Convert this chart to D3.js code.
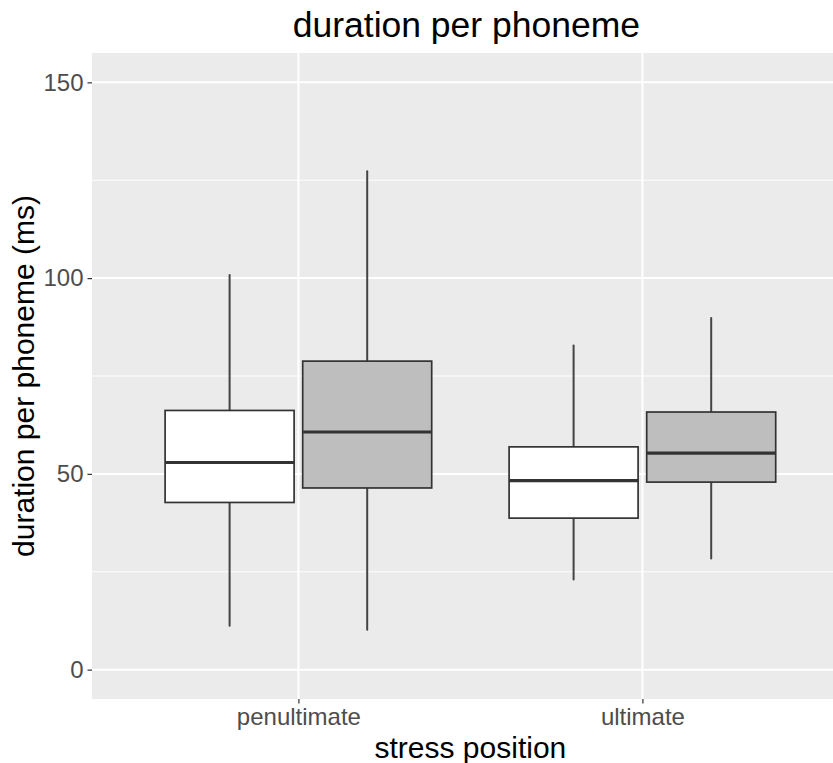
<!DOCTYPE html>
<html><head><meta charset="utf-8">
<script src="https://cdnjs.cloudflare.com/ajax/libs/d3/7.8.5/d3.min.js"></script>
<style>body{margin:0;background:#fff}svg{display:block;font-family:"Liberation Sans",Arial,Helvetica,sans-serif}</style>
</head><body><svg id="c" width="833" height="763"></svg>
<script>
const categories = ["penultimate", "ultimate"];
const groups = ["a", "b"];
const groupFill = ["#FFFFFF", "#BEBEBE"];
// per box: category, group, whiskerLow, q1, median, q3, whiskerHigh
const boxCategory = ["penultimate", "penultimate", "ultimate", "ultimate"];
const boxGroup = ["a", "b", "a", "b"];
const whiskerLow = [11.2, 10.2, 23.0, 28.4];
const q1 = [42.7, 46.4, 38.7, 47.9];
const median = [52.9, 60.7, 48.3, 55.3];
const q3 = [66.2, 78.8, 56.9, 65.8];
const whiskerHigh = [100.8, 127.3, 82.8, 89.8];
const yTicks = [0, 50, 100, 150];
const yMinor = [25, 75, 125];

(function () {
const svg = d3.select("#c");
const pLeft = 92, pTop = 53, pBottom = 699;
const unit = 344;
const pRight = pLeft + 2.2 * unit;
const x = d3.scaleLinear().domain([0.4, 2.6]).range([pLeft, pRight]);
const y = d3.scaleLinear().domain([-7.5, 157.5]).range([pBottom, pTop]);
const catPos = c => categories.indexOf(c) + 1;

svg.append("defs").append("clipPath").attr("id", "pc")
  .append("rect").attr("x", pLeft).attr("y", pTop).attr("width", pRight - pLeft).attr("height", pBottom - pTop);
const panel = svg.append("g").attr("clip-path", "url(#pc)");
panel.append("rect").attr("x", pLeft).attr("y", pTop).attr("width", pRight - pLeft).attr("height", pBottom - pTop).attr("fill", "#EBEBEB");
panel.selectAll(".ymin").data(yMinor).enter().append("line")
  .attr("x1", pLeft).attr("x2", pRight).attr("y1", d => y(d)).attr("y2", d => y(d))
  .attr("stroke", "#fff").attr("stroke-width", 1);
panel.selectAll(".ymaj").data(yTicks).enter().append("line")
  .attr("x1", pLeft).attr("x2", pRight).attr("y1", d => y(d)).attr("y2", d => y(d))
  .attr("stroke", "#fff").attr("stroke-width", 2);
panel.selectAll(".xmaj").data(categories).enter().append("line")
  .attr("x1", d => x(catPos(d))).attr("x2", d => x(catPos(d))).attr("y1", pTop).attr("y2", pBottom)
  .attr("stroke", "#fff").attr("stroke-width", 2);

const dodge = 0.2, bw = 0.375;
const boxes = boxCategory.map((c, i) => ({
  cx: catPos(c) + (groups.indexOf(boxGroup[i]) === 0 ? -dodge : dodge),
  fill: groupFill[groups.indexOf(boxGroup[i])],
  lo: whiskerLow[i], q1: q1[i], med: median[i], q3: q3[i], hi: whiskerHigh[i]
}));
const bg = panel.selectAll(".box").data(boxes).enter().append("g");
bg.append("line").attr("x1", d => x(d.cx)).attr("x2", d => x(d.cx))
  .attr("y1", d => y(d.hi)).attr("y2", d => y(d.q3)).attr("stroke", "#444").attr("stroke-width", 2)
  .attr("stroke-linecap", "round");
bg.append("line").attr("x1", d => x(d.cx)).attr("x2", d => x(d.cx))
  .attr("y1", d => y(d.q1)).attr("y2", d => y(d.lo)).attr("stroke", "#444").attr("stroke-width", 2)
  .attr("stroke-linecap", "round");
bg.append("rect").attr("x", d => x(d.cx - bw / 2)).attr("width", d => x(d.cx + bw / 2) - x(d.cx - bw / 2))
  .attr("y", d => y(d.q3)).attr("height", d => y(d.q1) - y(d.q3))
  .attr("fill", d => d.fill).attr("stroke", "#333").attr("stroke-width", 1.7);
bg.append("line").attr("x1", d => x(d.cx - bw / 2)).attr("x2", d => x(d.cx + bw / 2))
  .attr("y1", d => y(d.med)).attr("y2", d => y(d.med)).attr("stroke", "#333").attr("stroke-width", 3.2);

const yAxis = d3.axisLeft(y).tickValues(yTicks).tickSize(4.5).tickPadding(4);
const ya = svg.append("g").attr("transform", `translate(${pLeft},0)`).call(yAxis);
ya.select(".domain").remove();
ya.selectAll("line").attr("stroke", "#333").attr("stroke-width", 1.2);
ya.selectAll("text").attr("fill", "#4D4D4D").style("font-size", "24px").style("font-family", "Liberation Sans, Arial, sans-serif");

const xAxis = d3.axisBottom(x).tickValues([1, 2]).tickFormat(d => categories[d - 1]).tickSize(4.5).tickPadding(4);
const xa = svg.append("g").attr("transform", `translate(0,${pBottom})`).call(xAxis);
xa.select(".domain").remove();
xa.selectAll("line").attr("stroke", "#333").attr("stroke-width", 1.2);
xa.selectAll("text").attr("fill", "#4D4D4D").style("font-size", "24px").style("font-family", "Liberation Sans, Arial, sans-serif");

const pcx = (pLeft + pRight) / 2;
svg.append("text").attr("x", pcx).attr("y", 758).attr("text-anchor", "middle")
  .style("font-size", "30px").attr("fill", "#000").text("stress position");
svg.append("text").attr("transform", `translate(34,${(pTop + pBottom) / 2}) rotate(-90)`).attr("text-anchor", "middle")
  .style("font-size", "30px").attr("fill", "#000").text("duration per phoneme (ms)");
svg.append("text").attr("x", pcx - 4).attr("y", 37).attr("text-anchor", "middle")
  .style("font-size", "35.5px").attr("fill", "#000").text("duration per phoneme");
})();
</script></body></html>
